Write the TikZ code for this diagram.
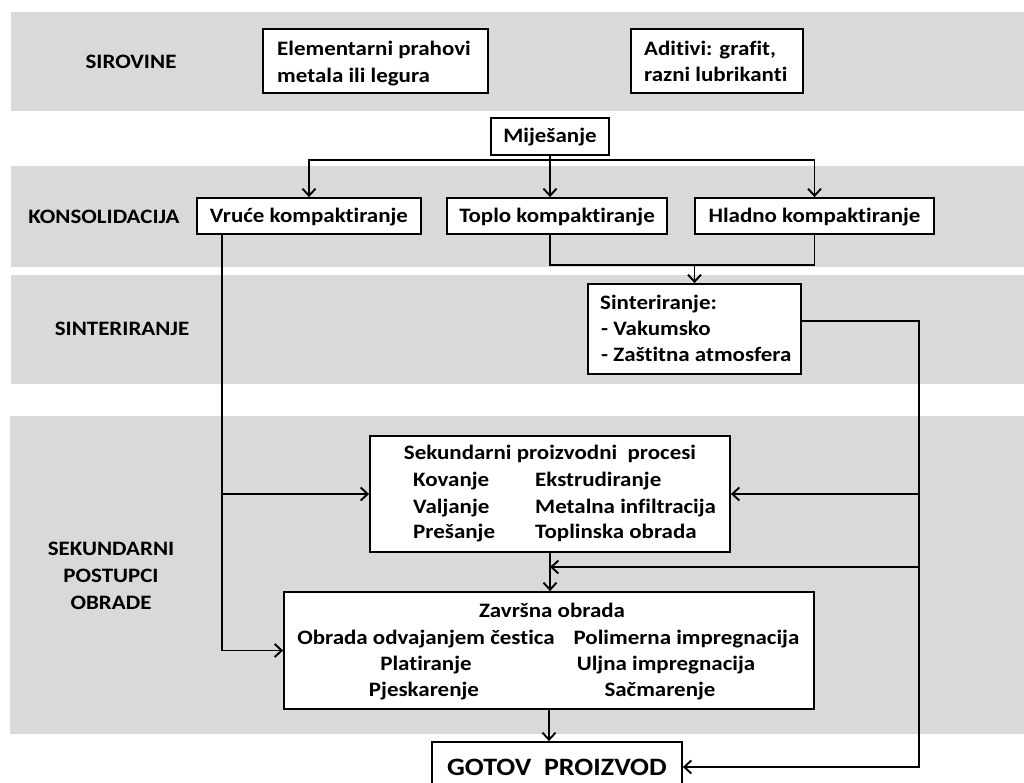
\documentclass[tikz,border=0pt]{standalone}
\usepackage{fontspec}
\setmainfont{Carlito}[FakeStretch=1.12, Ligatures=NoCommon]
\usetikzlibrary{arrows.meta,shadows}
\definecolor{bandgray}{RGB}{217,217,217}
\newcommand\bfz{\fontsize{20.5}{27}\selectfont\bfseries}
\newcommand\gotfont{\fontsize{25}{30}\selectfont\bfseries}
\tikzset{
  band/.style={fill=bandgray, draw=none},
  boxx/.style={draw=black, fill=white, line width=1.8pt, inner sep=0pt,
    drop shadow={shadow xshift=0.9pt, shadow yshift=-1.3pt, fill=black, opacity=0.55},
    font=\bfz, text height=13pt, text depth=0pt},
  txt/.style={inner sep=0pt, font=\bfz, text height=13pt, text depth=0pt},
  lbl/.style={inner sep=0pt, font=\bfz},
  conn/.style={line width=1.9pt, draw=black},
  arr/.style={conn, -{Straight Barb[length=7pt,width=13pt,line width=1.9pt]}},
}
\begin{document}
\begin{tikzpicture}[x=1pt,y=-1pt]
\clip (0,0) rectangle (1024,783);
\fill[white] (0,0) rectangle (1024,783);
% bands
\fill[band] (11,12) rectangle (1024,111);
\fill[band] (11,166) rectangle (1024,267);
\fill[band] (11,275) rectangle (1024,384);
\fill[band] (10,416) rectangle (1024,734);
% row labels
\node[lbl, text height=13pt, text depth=0pt] (lsir) at (131,62) {SIROVINE};
\node[lbl, text height=13pt, text depth=0pt] (lkon) at (104,217) {KONSOLIDACIJA};
\node[lbl, text height=13pt, text depth=0pt] (lsin) at (122,329) {SINTERIRANJE};
\node[lbl, align=center] (lsek) at (111,576) {SEKUNDARNI\\POSTUPCI\\OBRADE};
% boxes
\node[boxx, minimum width=225pt, minimum height=64pt] (elem) at (375.5,61) {};
\node[boxx, minimum width=172pt, minimum height=64pt] (adit) at (717,61) {};
\node[boxx, minimum width=118pt, minimum height=37pt] (mix) at (550,136.5) {Miješanje};
\node[boxx, minimum width=224pt, minimum height=36pt] (vruce) at (309,216) {Vruće kompaktiranje};
\node[boxx, minimum width=220pt, minimum height=36pt] (toplo) at (557,216) {Toplo kompaktiranje};
\node[boxx, minimum width=239pt, minimum height=36pt] (hladno) at (814.5,216) {Hladno kompaktiranje};
\node[boxx, minimum width=213pt, minimum height=90pt] (sint) at (694.5,329) {};
\node[boxx, minimum width=360pt, minimum height=116pt] (sek) at (550,494) {};
\node[boxx, minimum width=530pt, minimum height=117pt] (zav) at (549,650.5) {};
\node[boxx, font=\gotfont, text height=16pt, minimum width=250pt, minimum height=50pt] (gotov) at (557,767) {GOTOV\ \ PROIZVOD};
% texts in raw-material boxes
\node[txt, anchor=west] (elem1) at (277,49) {Elementarni prahovi};
\node[txt, anchor=west] (elem2) at (277,76) {metala ili legura};
\node[txt, anchor=west] (adit1) at (644,49) {Aditivi: grafit,};
\node[txt, anchor=west] (adit2) at (644,75) {razni lubrikanti};
% texts in sintering box
\node[txt, anchor=west] (sint1) at (600,303) {Sinteriranje:};
\node[txt, anchor=west] (sint2) at (601,329) {- Vakumsko};
\node[txt, anchor=west] (sint3) at (601,355) {- Zaštitna atmosfera};
% texts in Sekundarni box
\node[txt] (sekT) at (550,453) {Sekundarni proizvodni\ \ procesi};
\node[txt, anchor=west] (sek1) at (413,480) {Kovanje};
\node[txt, anchor=west] (sek2) at (413,506.5) {Valjanje};
\node[txt, anchor=west] (sek3) at (413,532) {Prešanje};
\node[txt, anchor=west] (sek4) at (535,480) {Ekstrudiranje};
\node[txt, anchor=west] (sek5) at (535,506.5) {Metalna infiltracija};
\node[txt, anchor=west] (sek6) at (535,532) {Toplinska obrada};
% texts in Zavrsna box
\node[txt] (zavT) at (552,611) {Završna obrada};
\node[txt] (zav1) at (426,638) {Obrada odvajanjem čestica};
\node[txt] (zav2) at (426,664) {Platiranje};
\node[txt] (zav3) at (424,690) {Pjeskarenje};
\node[txt] (zav4) at (686.5,638) {Polimerna impregnacija};
\node[txt] (zav5) at (666,664) {Uljna impregnacija};
\node[txt] (zav6) at (660,690) {Sačmarenje};
% helper coordinates
\coordinate (split) at ([yshift=-4pt]mix.south);
\coordinate (j2) at (sint.north |- 0,265);
\coordinate (vl) at ([xshift=26pt]vruce.south west);
\coordinate (sx) at ([yshift=8pt]sint.east);
\coordinate (rv) at (919,321);
\coordinate (m2) at (550,567);
% connectors
\draw[conn] (mix.south) -- (split);
\draw[arr] (split) -| (vruce.north);
\draw[arr] (split) -- (split |- toplo.north);
\draw[arr] (split) -| (hladno.north);
\draw[conn] (toplo.south -| mix.south) |- (j2) -| (hladno.south);
\draw[arr] (j2) -- (sint.north);
\draw[arr] (vl) |- (zav.west);
\draw[arr] (vl |- sek.west) -- (sek.west);
\draw[arr] (sx) -- (rv) |- (gotov.east);
\draw[arr] (rv |- sek.east) -- (sek.east);
\draw[arr, line width=2.5pt] (rv |- m2) -- (m2);
\draw[arr] (sek.south) -- (sek.south |- zav.north);
\draw[arr] (zav.south) -- (zav.south |- gotov.north);
\end{tikzpicture}
\end{document}
